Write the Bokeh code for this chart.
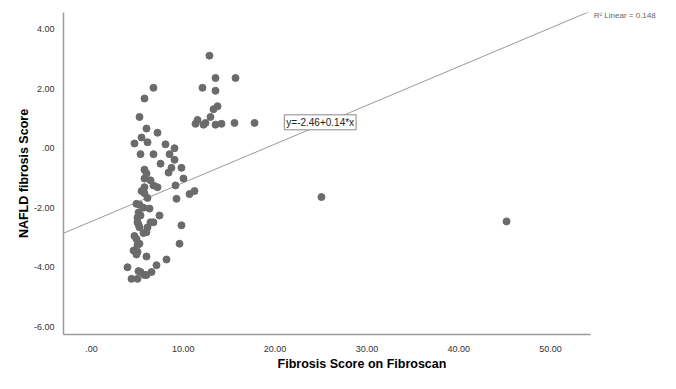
from bokeh.plotting import figure
from bokeh.models import Range1d, Label, FixedTicker, ColumnDataSource
from bokeh.embed import file_html
from bokeh.resources import INLINE

# ---- data ----
fibroscan = [12.85, 13.51, 15.69, 12.09, 13.51, 13.29, 13.73, 12.96, 11.55, 11.33,
             12.42, 12.20, 13.51, 14.16, 15.58, 17.76,
             6.75, 5.77, 5.23, 5.99, 7.19, 5.45, 6.10, 4.68, 8.06, 9.04,
             5.34, 6.75, 8.50, 7.52, 9.04, 5.77, 8.71, 9.80, 8.39, 5.99,
             5.77, 6.43, 10.02, 5.77, 6.75, 7.19, 9.15, 5.45, 5.77, 6.10,
             9.26, 10.68, 11.22, 4.90, 5.23, 5.66, 6.32, 5.12, 5.01, 5.34,
             7.41, 5.01, 5.12, 6.43, 6.75, 6.10, 5.23, 9.80, 5.99, 5.66,
             4.68, 4.90, 5.23, 5.01, 9.59, 4.58, 5.01, 4.90, 5.99, 8.17,
             7.08, 3.92, 5.12, 5.34, 5.77, 5.99, 6.54, 4.36, 5.01,
             25.05, 45.21]
nafld = [3.11, 2.36, 2.36, 2.03, 1.93, 1.31, 1.41, 1.05, 0.95, 0.82,
         0.85, 0.79, 0.79, 0.82, 0.85, 0.85,
         2.03, 1.67, 1.05, 0.66, 0.52, 0.36, 0.20, 0.16, 0.13, 0.00,
         -0.20, -0.20, -0.20, -0.52, -0.39, -0.72, -0.66, -0.66, -0.82, -0.85,
         -1.02, -1.08, -1.02, -1.31, -1.25, -1.31, -1.25, -1.44, -1.51, -1.67,
         -1.70, -1.54, -1.44, -1.87, -1.90, -2.00, -2.03, -2.16, -2.33, -2.26,
         -2.26, -2.49, -2.56, -2.49, -2.49, -2.66, -2.66, -2.59, -2.82, -2.85,
         -2.95, -3.05, -3.21, -3.25, -3.21, -3.44, -3.48, -3.57, -3.64, -3.74,
         -3.93, -4.00, -4.13, -4.16, -4.26, -4.26, -4.16, -4.39, -4.39,
         -1.64, -2.46]

fit_intercept = -2.46
fit_slope = 0.13
fit_label = "y=-2.46+0.14*x"
r2_label = "R\u00b2 Linear = 0.148"

x_ticks = [0, 10, 20, 30, 40, 50]
x_tick_labels = [".00", "10.00", "20.00", "30.00", "40.00", "50.00"]
y_ticks = [-6, -4, -2, 0, 2, 4]
y_tick_labels = ["-6.00", "-4.00", "-2.00", ".00", "2.00", "4.00"]

x_title = "Fibrosis Score on Fibroscan"
y_title = "NAFLD fibrosis Score"

# ---- figure ----
x0, x_axis_end, x1 = -3.05, 54.36, 61.98
y0, y1 = -6.26, 4.56

p = figure(width=660, height=373, output_backend="svg", toolbar_location=None,
           x_range=Range1d(x0, x1), y_range=Range1d(y0, y1),
           min_border_left=63, min_border_right=0, min_border_top=12, min_border_bottom=30)
p.outline_line_color = None
p.xgrid.visible = False
p.ygrid.visible = False
p.background_fill_color = "white"

FONT = "Liberation Sans"

for ax, ticks, labels in ((p.xaxis[0], x_ticks, x_tick_labels), (p.yaxis[0], y_ticks, y_tick_labels)):
    ax.ticker = FixedTicker(ticks=ticks)
    ax.major_label_overrides = {t: l for t, l in zip(ticks, labels)}
    ax.major_tick_line_color = None
    ax.minor_tick_line_color = None
    ax.axis_line_color = "#9a9a9a"
    ax.axis_line_width = 1.5
    ax.major_label_text_font = FONT
    ax.major_label_text_font_size = "9px"
    ax.major_label_text_color = "#333333"
    ax.axis_label_text_font = FONT
    ax.axis_label_text_font_size = "12.5px"
    ax.axis_label_text_font_style = "bold"
    ax.axis_label_text_color = "#000000"

p.xaxis.bounds = (x0, x_axis_end)
p.xaxis.axis_label = x_title
p.yaxis.axis_label = y_title
p.xaxis.major_label_standoff = 5
p.xaxis.axis_label_standoff = 2
p.yaxis.major_label_standoff = 3
p.yaxis.axis_label_standoff = 0

# fit line (clipped at the top of the frame)
fx = [x0, x1]
fy = [fit_intercept + fit_slope * v for v in fx]
p.line(fx, fy, line_color="#9a9a9a", line_width=1)

src = ColumnDataSource(dict(x=fibroscan, y=nafld))
p.scatter("x", "y", source=src, size=7, fill_color="#6b6b6b", line_color="#6b6b6b")

p.add_layout(Label(x=21.0, y=0.87, text=fit_label, text_font=FONT, text_font_size="10px",
                   text_color="#222222", text_baseline="middle",
                   border_line_color="#888888", border_line_width=1,
                   background_fill_color="white", padding=2))
p.add_layout(Label(x=54.7, y=4.45, text=r2_label, text_font=FONT, text_font_size="8px",
                   text_color="#666666", text_baseline="middle"))

open("out.html", "w").write(file_html(p, INLINE))
